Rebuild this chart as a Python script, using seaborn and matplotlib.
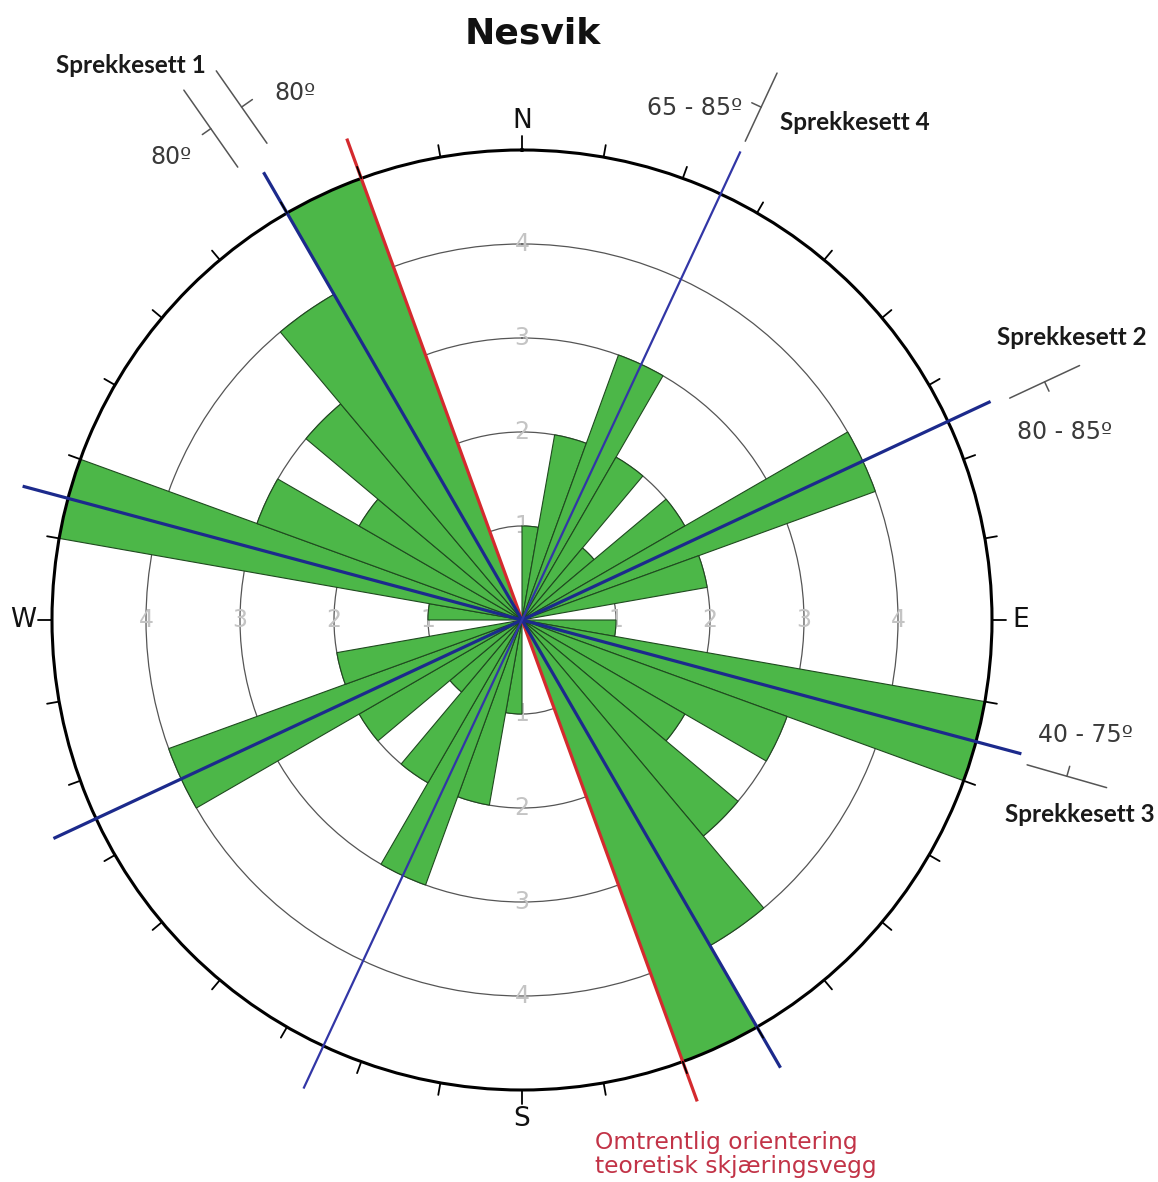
import numpy as np
import pandas as pd
import matplotlib
matplotlib.use("Agg")
import matplotlib.pyplot as plt
import seaborn as sns

# 10 degree bins, axial data (each strike counted in both directions)
bin_start = np.arange(0, 360, 10)
counts = [1, 2, 3, 2, 1, 2, 4, 2, 0, 1, 5, 3, 2, 3, 4, 5, 0, 0,
          1, 2, 3, 2, 1, 2, 4, 2, 0, 1, 5, 3, 2, 3, 4, 5, 0, 0]

ring_values = [1, 2, 3, 4]
r_max = 5
compass_labels = ["N", "E", "S", "W"]
compass_az = [0, 90, 180, 270]

set_names = ["Sprekkesett 1", "Sprekkesett 2", "Sprekkesett 3", "Sprekkesett 4"]
set_strikes = [330, 65, 105, 25]
set_dips = ["80º", "80 - 85º", "40 - 75º", "65 - 85º"]
wall_strike = 160
wall_label = "Omtrentlig orientering\nteoretisk skjæringsvegg"

GREEN = "#4cb748"
EDGE = "#1f4a1f"
BLUE = "#1c2a8c"
RED = "#d42a2e"
GREY = "#555555"

sns.set_theme(style="white")
plt.rcParams["font.family"] = ["DejaVu Sans"]


def xy(az, r):
    a = np.deg2rad(az)
    return r * np.sin(a), r * np.cos(a)


def strike_mark(ax, center, strike, half, tick_az, tick_len=0.11):
    dx, dy = xy(strike, half)
    cx, cy = center
    ax.plot([cx - dx, cx + dx], [cy - dy, cy + dy], color=GREY, lw=1.1, clip_on=False)
    tx, ty = xy(tick_az, tick_len)
    ax.plot([cx, cx + tx], [cy, cy + ty], color=GREY, lw=1.1, clip_on=False)


df = pd.DataFrame({"theta": np.deg2rad(bin_start + 5), "count": counts})

fig = plt.figure(figsize=(11.58, 11.82), dpi=100)
rect = [52 / 1158, 92 / 1182, 940 / 1158, 940 / 1182]
ax = fig.add_axes(rect, projection="polar")
ax.set_theta_zero_location("N")
ax.set_theta_direction(-1)

sns.barplot(data=df, x="theta", y="count", native_scale=True, width=1, orient="x",
            color=GREEN, saturation=1, edgecolor=EDGE, linewidth=0.8,
            errorbar=None, ax=ax, zorder=2)

ax.set_ylim(0, r_max)
ax.set_xlim(0, 2 * np.pi)
ax.set_rgrids(ring_values, labels=[])
ax.set_xticks([])
ax.yaxis.grid(True, color="#555555", lw=0.9)
ax.xaxis.grid(False)
ax.set_xlabel("")
ax.set_ylabel("")
ax.spines["polar"].set_color("black")
ax.spines["polar"].set_linewidth(2.2)

# ring values along the four main directions
for az in compass_az:
    for v in ring_values:
        ax.text(np.deg2rad(az), v, str(v), color="#c4c4c4", fontsize=17,
                ha="center", va="center", zorder=1)

# fracture sets and cut wall
for s in set_strikes:
    t = np.deg2rad(s)
    lw = 1.6 if s == 25 else 2.3
    col = "#3236a6" if s == 25 else BLUE
    ax.plot([t, t, t + np.pi, t + np.pi], [5.5, 0, 0, 5.5], color=col, lw=lw,
            clip_on=False, zorder=4, solid_capstyle="butt")
tw = np.deg2rad(wall_strike)
ax.plot([tw, tw, tw + np.pi, tw + np.pi], [5.45, 0, 0, 5.45], color=RED, lw=2.3,
        clip_on=False, zorder=3, solid_capstyle="butt")

# overlay in the same units for the frame ticks and notes
ax2 = fig.add_axes(rect)
ax2.set_xlim(-r_max, r_max)
ax2.set_ylim(-r_max, r_max)
ax2.set_aspect("equal")
ax2.axis("off")
ax2.patch.set_alpha(0)

for az in bin_start:
    x0, y0 = xy(az, r_max)
    x1, y1 = xy(az, r_max + (0.15 if az in compass_az else 0.13))
    ax2.plot([x0, x1], [y0, y1], color="black", lw=1.3, clip_on=False)

for lab, az in zip(compass_labels, compass_az):
    x, y = xy(az, 5.31)
    ax2.text(x, y, lab, fontsize=19, ha="center", va="center", color="#111111")

# strike/dip symbols
mid = np.array(xy(329.5, 6.2))
perp = np.array(xy(235, 0.2))
strike_mark(ax2, mid + perp, 145, 0.5, 235)
strike_mark(ax2, mid - perp, 145, 0.47, 55, 0.14)
strike_mark(ax2, xy(65.5, 6.11), 65, 0.41, 155)
strike_mark(ax2, xy(106, 6.03), 106, 0.44, 16)
strike_mark(ax2, xy(25, 6.02), 25, 0.4, 295)

bold = dict(fontsize=17.5, fontweight="bold", family=["Lato", "DejaVu Sans"],
            color="#1a1a1a", ha="center", va="center")
note = dict(fontsize=17, color="#3a3a3a", ha="center", va="center")

ax2.text(-4.16, 5.90, set_names[0], **bold)
ax2.text(-2.42, 5.61, set_dips[0], **note)
ax2.text(-3.73, 4.93, set_dips[0], **note)
ax2.text(5.85, 3.01, set_names[1], **bold)
ax2.text(5.77, 2.00, set_dips[1], **note)
ax2.text(5.99, -1.22, set_dips[2], **note)
ax2.text(5.93, -2.07, set_names[2], **bold)
ax2.text(2.34, 5.45, set_dips[3], **dict(note, ha="right"))
ax2.text(3.54, 5.29, set_names[3], **bold)

ax2.text(0.78, -5.69, wall_label, fontsize=16.8, color="#c23347", ha="left",
         va="center", linespacing=1.05)

fig.text(533 / 1158, 1 - 33 / 1182, "Nesvik", fontsize=26, fontweight="bold",
         ha="center", va="center", color="#111111")

fig.savefig("out.png", dpi=100)
